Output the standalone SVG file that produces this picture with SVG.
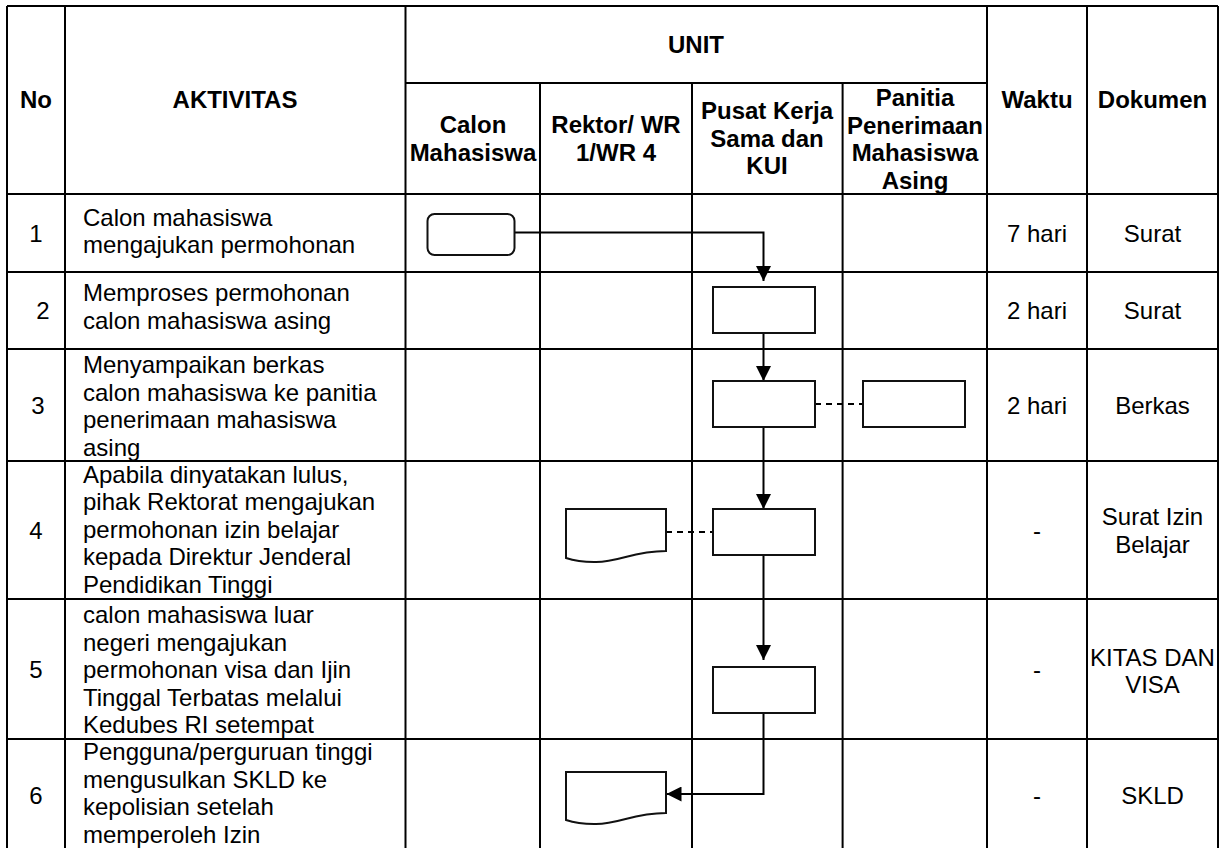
<svg xmlns="http://www.w3.org/2000/svg" width="1231" height="848" viewBox="0 0 1231 848">
<defs>
<style>
.grid{stroke:#000;stroke-width:2;fill:none}
.h{font-family:"Liberation Sans",Arial,sans-serif;font-size:24px;font-weight:bold;fill:#000;text-anchor:middle}
.t{font-family:"Liberation Sans",Arial,sans-serif;font-size:24px;fill:#000}
.c{text-anchor:middle}
.box{fill:#fff;stroke:#111;stroke-width:2}
.flow{stroke:#000;stroke-width:2;fill:none}
.dash{stroke:#000;stroke-width:2;fill:none;stroke-dasharray:6 5}
</style>
<marker id="arr" viewBox="0 0 15 15" refX="15" refY="7.5" markerWidth="15" markerHeight="15" markerUnits="userSpaceOnUse" orient="auto">
<path d="M0,0 L15,7.5 L0,15 Z" fill="#000"/>
</marker>
</defs>
<rect width="1231" height="848" fill="#fff"/>
<g id="table">
<path class="grid" d="M7,6 H1218 M405.5,83 H987 M7,194 H1218 M7,272 H1218 M7,349 H1218 M7,461 H1218 M7,599 H1218 M7,739 H1218 M7,6 V848 M65,6 V848 M405.5,6 V848 M540,83 V848 M692,83 V848 M842.6,83 V848 M987,6 V848 M1087,6 V848 M1218,6 V848"/>
</g>
<g id="header">
<text class="h" x="696" y="53">UNIT</text>
<text class="h" x="36" y="108">No</text>
<text class="h" x="235" y="108">AKTIVITAS</text>
<text class="h" x="1037" y="108">Waktu</text>
<text class="h" x="1152.5" y="108">Dokumen</text>
<text class="h" x="473" y="133.3">Calon</text>
<text class="h" x="473" y="161">Mahasiswa</text>
<text class="h" x="616" y="133.3">Rektor/ WR</text>
<text class="h" x="616" y="161">1/WR 4</text>
<text class="h" x="767" y="119">Pusat Kerja</text>
<text class="h" x="767" y="146.5">Sama dan</text>
<text class="h" x="767" y="174">KUI</text>
<text class="h" x="915" y="106">Panitia</text>
<text class="h" x="915" y="133.5">Penerimaan</text>
<text class="h" x="915" y="161">Mahasiswa</text>
<text class="h" x="915" y="188.5">Asing</text>
</g>
<g id="row1">
<text class="t c" x="36" y="241.5">1</text>
<text class="t" x="83" y="226">Calon mahasiswa</text>
<text class="t" x="83" y="253">mengajukan permohonan</text>
<text class="t c" x="1037" y="241.5">7 hari</text>
<text class="t c" x="1152.5" y="241.5">Surat</text>
</g>
<g id="row2">
<text class="t c" x="43" y="319">2</text>
<text class="t" x="83" y="301">Memproses permohonan</text>
<text class="t" x="83" y="328.6">calon mahasiswa asing</text>
<text class="t c" x="1037" y="319">2 hari</text>
<text class="t c" x="1152.5" y="319">Surat</text>
</g>
<g id="row3">
<text class="t c" x="38" y="413.5">3</text>
<text class="t" x="83" y="373">Menyampaikan berkas</text>
<text class="t" x="83" y="400.6">calon mahasiswa ke panitia</text>
<text class="t" x="83" y="428.2">penerimaan mahasiswa</text>
<text class="t" x="83" y="455.8">asing</text>
<text class="t c" x="1037" y="413.5">2 hari</text>
<text class="t c" x="1152.5" y="413.5">Berkas</text>
</g>
<g id="row4">
<text class="t c" x="36" y="538.5">4</text>
<text class="t" x="83" y="482.6">Apabila dinyatakan lulus,</text>
<text class="t" x="83" y="510.2">pihak Rektorat mengajukan</text>
<text class="t" x="83" y="537.8">permohonan izin belajar</text>
<text class="t" x="83" y="565.4">kepada Direktur Jenderal</text>
<text class="t" x="83" y="593">Pendidikan Tinggi</text>
<text class="t c" x="1037" y="538.5">-</text>
<text class="t c" x="1152.5" y="525">Surat Izin</text>
<text class="t c" x="1152.5" y="552.6">Belajar</text>
</g>
<g id="row5">
<text class="t c" x="36" y="677.5">5</text>
<text class="t" x="83" y="623">calon mahasiswa luar</text>
<text class="t" x="83" y="650.6">negeri mengajukan</text>
<text class="t" x="83" y="678.2">permohonan visa dan Ijin</text>
<text class="t" x="83" y="705.8">Tinggal Terbatas melalui</text>
<text class="t" x="83" y="733.4">Kedubes RI setempat</text>
<text class="t c" x="1037" y="677.5">-</text>
<text class="t c" x="1152.5" y="666">KITAS DAN</text>
<text class="t c" x="1152.5" y="693">VISA</text>
</g>
<g id="row6">
<text class="t c" x="36" y="803.5">6</text>
<text class="t" x="83" y="760">Pengguna/perguruan tinggi</text>
<text class="t" x="83" y="787.6">mengusulkan SKLD ke</text>
<text class="t" x="83" y="815.2">kepolisian setelah</text>
<text class="t" x="83" y="842.8">memperoleh Izin</text>
<text class="t c" x="1037" y="803.5">-</text>
<text class="t c" x="1152.5" y="803.5">SKLD</text>
</g>
<g id="connectors">
<path class="flow" d="M514.5,232.5 H763.5 V281" marker-end="url(#arr)"/>
<path class="flow" d="M763.5,333 V381" marker-end="url(#arr)"/>
<path class="dash" d="M815,404 H863"/>
<path class="flow" d="M763.5,427 V509" marker-end="url(#arr)"/>
<path class="dash" d="M666,532 H713"/>
<path class="flow" d="M763.5,555 V660" marker-end="url(#arr)"/>
<path class="flow" d="M763.5,712.5 V794 H666.5" marker-end="url(#arr)"/>
</g>
<g id="start">
<rect class="box" x="427.5" y="214" width="87" height="41" rx="7"/>
</g>
<g id="proses2">
<rect class="box" x="713" y="287" width="102" height="46"/>
</g>
<g id="proses3">
<rect class="box" x="713" y="381" width="102" height="46"/>
</g>
<g id="panitia3">
<rect class="box" x="863" y="381" width="102" height="46"/>
</g>
<g id="proses4">
<rect class="box" x="713" y="509" width="102" height="46"/>
</g>
<g id="dokumen4">
<path class="box" d="M566,509 H666 V551 C632,551 618,563 594,562 C580,562 572,560 566,558 Z"/>
</g>
<g id="proses5">
<rect class="box" x="713" y="667" width="102" height="46"/>
</g>
<g id="dokumen6">
<path class="box" d="M566,772 H666 V813 C632,813 618,825 594,824 C580,824 572,822 566,820 Z"/>
</g>
</svg>
